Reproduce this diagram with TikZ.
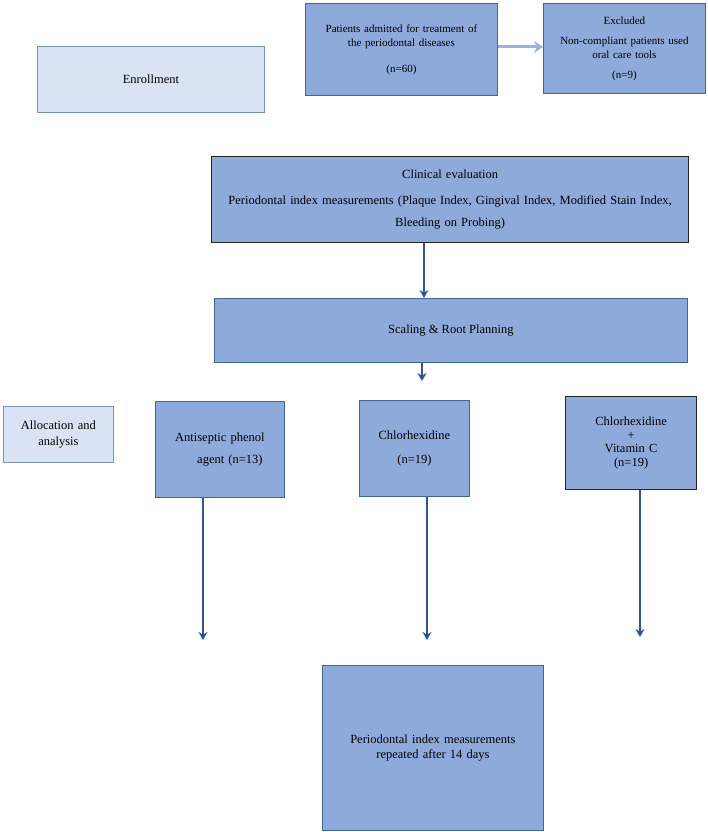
\documentclass[tikz,border=0pt]{standalone}
\usepackage{fontspec}
\setmainfont{Liberation Serif}
\usepackage{tikz}
\usetikzlibrary{positioning}
\usetikzlibrary{arrows.meta}
\definecolor{boxfill}{HTML}{8EAADB}
\definecolor{lightfill}{HTML}{DAE3F3}
\definecolor{boxline}{HTML}{41669A}
\definecolor{arrowblue}{HTML}{2F5597}
\tikzset{
	box/.style = {fill = boxfill, draw = boxline, line width = 0.8pt, anchor = north west, inner sep = 2pt, align = center, font = \fontsize{12.5}{15.5}\selectfont},
	lightbox/.style = {box, fill = lightfill, draw = boxline!70},
	darkbox/.style = {box, draw = black!85, line width = 1.2pt},
	flow/.style = {draw = arrowblue, line width = 2pt, -{Stealth[length=8pt,width=9pt]}}
}
\begin{document}
\begin{tikzpicture}[x=1pt,y=-1pt]
		\useasboundingbox (0,0) rectangle (708,832);

		\node[lightbox,minimum width = 227pt,minimum height = 66pt] at (37,46) (enroll) {Enrollment};
		\node[box,minimum width = 192pt,minimum height = 92pt,text width = 188pt,font = \fontsize{11}{14}\selectfont] at (305,3) (patients)
		{Patients admitted for treatment of\\the periodontal diseases\\[12pt](n=60)\\[10pt]};
		\node[box,minimum width = 162pt,minimum height = 90pt,text width = 158pt,font = \fontsize{11}{14}\selectfont] at (543,3) (excl)
		{Excluded\\[6pt]Non-compliant patients used\\oral care tools\\[6pt](n=9)};

		\node[darkbox,minimum width = 477pt,minimum height = 86pt,text width = 473pt,font = \fontsize{12.5}{22}\selectfont] at (211,156) (clin)
		{Clinical evaluation\\[4pt]Periodontal index measurements (Plaque Index, Gingival Index, Modified Stain Index,\\Bleeding on Probing)\\[4pt]};
		\node[box,minimum width = 473pt,minimum height = 64pt] at (214,298) (scal) {Scaling \& Root Planning};

		\node[lightbox,minimum width = 110pt,minimum height = 56pt,text width = 106pt] at (3,406) (alloc)
		{Allocation and\\analysis};
		\node[box,minimum width = 129pt,minimum height = 96pt,text width = 125pt] at (155,401) (anti)
		{Antiseptic phenol\\[6pt]\hspace*{20pt}agent (n=13)\\[22pt]};
		\node[box,minimum width = 110pt,minimum height = 96pt,text width = 106pt] at (359,400) (chx)
		{Chlorhexidine\\[8pt](n=19)\\[22pt]};
		\node[darkbox,minimum width = 131pt,minimum height = 93pt,text width = 127pt] at (565,396) (chxc)
		{Chlorhexidine\\[-2pt]+\\[-2pt]Vitamin C\\[-2pt](n=19)\\[6pt]};

		\node[box,minimum width = 221pt,minimum height = 165pt,text width = 217pt] at (322,665) (final)
		{Periodontal index measurements\\repeated after 14 days};

		\coordinate (e1) at (203,640);
		\coordinate (e2) at (427,640);
		\coordinate (e3) at (640,637);

		\draw[flow,draw = boxfill!90!white,line width = 3pt,-{Stealth[length=9pt,width=12pt]}] (patients.east |- 0,47) -- (excl.west |- 0,47);
		\draw[flow] (clin.south -| 424,0) -- (scal.north -| 424,0);
		\draw[flow,line width = 1.5pt] (scal.south -| 422,0) -- (422,381);
		\draw[flow] (anti.south -| e1) -- (e1);
		\draw[flow] (chx.south -| e2) -- (e2);
		\draw[flow] (chxc.south -| e3) -- (e3);
	\end{tikzpicture}
\end{document}
